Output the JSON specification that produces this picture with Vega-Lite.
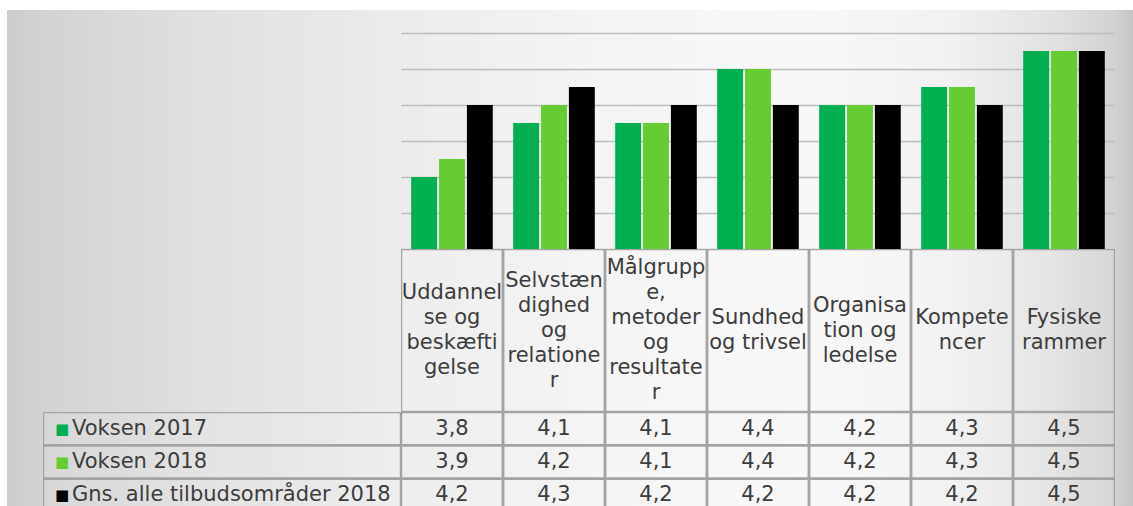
{
  "$schema": "https://vega.github.io/schema/vega-lite/v6.json",
  "padding": {"left": 7, "top": 10, "right": 0, "bottom": 0},
  "background": "white",
  "datasets": {
    "vals": [
      {"kategori": "Uddannelse og beskæftigelse", "serie": "Voksen 2017", "score": 3.8},
      {"kategori": "Uddannelse og beskæftigelse", "serie": "Voksen 2018", "score": 3.9},
      {"kategori": "Uddannelse og beskæftigelse", "serie": "Gns. alle tilbudsområder 2018", "score": 4.2},
      {"kategori": "Selvstændighed og relationer", "serie": "Voksen 2017", "score": 4.1},
      {"kategori": "Selvstændighed og relationer", "serie": "Voksen 2018", "score": 4.2},
      {"kategori": "Selvstændighed og relationer", "serie": "Gns. alle tilbudsområder 2018", "score": 4.3},
      {"kategori": "Målgruppe, metoder og resultater", "serie": "Voksen 2017", "score": 4.1},
      {"kategori": "Målgruppe, metoder og resultater", "serie": "Voksen 2018", "score": 4.1},
      {"kategori": "Målgruppe, metoder og resultater", "serie": "Gns. alle tilbudsområder 2018", "score": 4.2},
      {"kategori": "Sundhed og trivsel", "serie": "Voksen 2017", "score": 4.4},
      {"kategori": "Sundhed og trivsel", "serie": "Voksen 2018", "score": 4.4},
      {"kategori": "Sundhed og trivsel", "serie": "Gns. alle tilbudsområder 2018", "score": 4.2},
      {"kategori": "Organisation og ledelse", "serie": "Voksen 2017", "score": 4.2},
      {"kategori": "Organisation og ledelse", "serie": "Voksen 2018", "score": 4.2},
      {"kategori": "Organisation og ledelse", "serie": "Gns. alle tilbudsområder 2018", "score": 4.2},
      {"kategori": "Kompetencer", "serie": "Voksen 2017", "score": 4.3},
      {"kategori": "Kompetencer", "serie": "Voksen 2018", "score": 4.3},
      {"kategori": "Kompetencer", "serie": "Gns. alle tilbudsområder 2018", "score": 4.2},
      {"kategori": "Fysiske rammer", "serie": "Voksen 2017", "score": 4.5},
      {"kategori": "Fysiske rammer", "serie": "Voksen 2018", "score": 4.5},
      {"kategori": "Fysiske rammer", "serie": "Gns. alle tilbudsområder 2018", "score": 4.5}
    ],
    "kat": [
      {"kategori": "Uddannelse og beskæftigelse", "label": "Uddannel|se og|beskæfti|gelse"},
      {"kategori": "Selvstændighed og relationer", "label": "Selvstæn|dighed|og|relatione|r"},
      {"kategori": "Målgruppe, metoder og resultater", "label": "Målgrupp|e,|metoder|og|resultate|r"},
      {"kategori": "Sundhed og trivsel", "label": "Sundhed|og trivsel"},
      {"kategori": "Organisation og ledelse", "label": "Organisa|tion og|ledelse"},
      {"kategori": "Kompetencer", "label": "Kompete|ncer"},
      {"kategori": "Fysiske rammer", "label": "Fysiske|rammer"}
    ],
    "serier": [
      {"serie": "Voksen 2017"},
      {"serie": "Voksen 2018"},
      {"serie": "Gns. alle tilbudsområder 2018"}
    ]
  },
  "config": {
    "view": {"stroke": null},
    "font": "DejaVu Sans",
    "concat": {"spacing": 0},
    "locale": {"number": {"decimal": ",", "thousands": ".", "grouping": [3], "currency": ["", " kr."]}}
  },
  "spacing": 0,
  "vconcat": [
    {
      "spacing": 0,
      "hconcat": [
        {
          "width": 394, "height": 239,
          "data": {"values": []},
          "mark": "rect",
          "view": {"stroke": null, "fill": {"gradient": "linear", "stops": [{"offset": 0, "color": "#cccccc"}, {"offset": 0.1, "color": "#d3d3d3"}, {"offset": 0.49, "color": "#e0e0e0"}, {"offset": 1, "color": "#ececec"}]}}
        },
        {
          "width": 714, "height": 239,
          "data": {"name": "vals"},
          "view": {"stroke": null, "fill": {"gradient": "linear", "stops": [{"offset": 0, "color": "#ececec"}, {"offset": 0.28, "color": "#f4f4f4"}, {"offset": 0.56, "color": "#f8f8f8"}, {"offset": 0.77, "color": "#f1f1f1"}, {"offset": 0.91, "color": "#e2e2e2"}, {"offset": 1, "color": "#d2d2d2"}]}},
          "mark": {"type": "bar", "clip": true},
          "encoding": {
            "x": {"field": "kategori", "type": "nominal", "sort": null, "axis": null, "scale": {"paddingInner": 0.2, "paddingOuter": 0.1}},
            "xOffset": {"field": "serie", "type": "nominal", "sort": ["Voksen 2017", "Voksen 2018", "Gns. alle tilbudsområder 2018"], "scale": {"paddingInner": 0.07}},
            "y": {
              "field": "score", "type": "quantitative",
              "scale": {"domain": [3.4, 4.7278], "zero": false, "nice": false},
              "axis": {"values": [3.4, 3.6, 3.8, 4.0, 4.2, 4.4, 4.6], "labels": false, "ticks": false, "domain": false, "grid": true, "gridColor": "#bdbdbd", "gridWidth": 1.5, "title": null}
            },
            "y2": {"datum": 3.4},
            "color": {"field": "serie", "type": "nominal", "scale": {"domain": ["Voksen 2017", "Voksen 2018", "Gns. alle tilbudsområder 2018"], "range": ["#00b050", "#66cc33", "#000000"]}, "legend": null}
          }
        },
        {
          "width": 24, "height": 239,
          "data": {"values": []},
          "mark": "rect",
          "view": {"stroke": null, "fill": {"gradient": "linear", "stops": [{"offset": 0, "color": "#d2d2d2"}, {"offset": 1, "color": "#c0c0c0"}]}}
        }
      ]
    },
    {
      "spacing": 0,
      "hconcat": [
        {
          "width": 394, "height": 163,
          "data": {"values": []},
          "mark": "rect",
          "view": {"stroke": null, "fill": {"gradient": "linear", "stops": [{"offset": 0, "color": "#cccccc"}, {"offset": 0.1, "color": "#d3d3d3"}, {"offset": 0.49, "color": "#e0e0e0"}, {"offset": 1, "color": "#ececec"}]}}
        },
        {
          "width": 714, "height": 163,
          "data": {"name": "kat"},
          "view": {"stroke": null, "fill": {"gradient": "linear", "stops": [{"offset": 0, "color": "#ececec"}, {"offset": 0.28, "color": "#f4f4f4"}, {"offset": 0.56, "color": "#f8f8f8"}, {"offset": 0.77, "color": "#f1f1f1"}, {"offset": 0.91, "color": "#e2e2e2"}, {"offset": 1, "color": "#d2d2d2"}]}},
          "layer": [
            {
              "mark": {"type": "rect", "fill": "#ffffff", "fillOpacity": 0.1, "stroke": "#a3a3a3", "strokeWidth": 2.5, "clip": true},
              "encoding": {
                "x": {"field": "kategori", "type": "nominal", "sort": null, "axis": null, "scale": {"paddingInner": 0, "paddingOuter": 0}}
              }
            },
            {
              "mark": {"type": "text", "lineBreak": "|", "lineHeight": 25, "fontSize": 21, "color": "#3c3c3c", "baseline": "middle", "align": "center", "dy": {"expr": "-(length(split(datum.label, '|')) - 1) * 12.5"}},
              "encoding": {
                "x": {"field": "kategori", "type": "nominal", "sort": null, "axis": null},
                "text": {"field": "label"}
              }
            }
          ]
        },
        {
          "width": 24, "height": 163,
          "data": {"values": []},
          "mark": "rect",
          "view": {"stroke": null, "fill": {"gradient": "linear", "stops": [{"offset": 0, "color": "#d2d2d2"}, {"offset": 1, "color": "#c0c0c0"}]}}
        }
      ]
    },
    {
      "spacing": 0,
      "hconcat": [
        {
          "width": 36, "height": 100,
          "data": {"values": []},
          "mark": "rect",
          "view": {"stroke": null, "fill": {"gradient": "linear", "stops": [{"offset": 0, "color": "#cccccc"}, {"offset": 1, "color": "#d3d3d3"}]}}
        },
        {
          "width": 358, "height": 100,
          "data": {"name": "serier"},
          "view": {"stroke": null, "fill": {"gradient": "linear", "stops": [{"offset": 0, "color": "#d3d3d3"}, {"offset": 0.435, "color": "#e0e0e0"}, {"offset": 1, "color": "#ececec"}]}},
          "layer": [
            {
              "mark": {"type": "rect", "fill": "#ffffff", "fillOpacity": 0.1, "stroke": "#a3a3a3", "strokeWidth": 2.5, "clip": true},
              "encoding": {
                "y": {"field": "serie", "type": "nominal", "sort": null, "axis": null, "scale": {"paddingInner": 0, "paddingOuter": 0}}
              }
            },
            {
              "mark": {"type": "text", "text": "■", "fontSize": 15, "align": "left", "baseline": "middle", "dx": 12},
              "encoding": {
                "y": {"field": "serie", "type": "nominal", "sort": null, "axis": null},
                "x": {"datum": 0, "type": "quantitative", "scale": {"domain": [0, 1]}, "axis": null},
                "color": {"field": "serie", "type": "nominal", "scale": {"domain": ["Voksen 2017", "Voksen 2018", "Gns. alle tilbudsområder 2018"], "range": ["#00b050", "#66cc33", "#000000"]}, "legend": null}
              }
            },
            {
              "mark": {"type": "text", "fontSize": 21, "align": "left", "baseline": "middle", "dx": 29, "color": "#3c3c3c"},
              "encoding": {
                "y": {"field": "serie", "type": "nominal", "sort": null, "axis": null},
                "x": {"datum": 0, "type": "quantitative", "scale": {"domain": [0, 1]}, "axis": null},
                "text": {"field": "serie"}
              }
            }
          ]
        },
        {
          "width": 714, "height": 100,
          "data": {"name": "vals"},
          "view": {"stroke": null, "fill": {"gradient": "linear", "stops": [{"offset": 0, "color": "#ececec"}, {"offset": 0.28, "color": "#f4f4f4"}, {"offset": 0.56, "color": "#f8f8f8"}, {"offset": 0.77, "color": "#f1f1f1"}, {"offset": 0.91, "color": "#e2e2e2"}, {"offset": 1, "color": "#d2d2d2"}]}},
          "layer": [
            {
              "mark": {"type": "rect", "fill": "#ffffff", "fillOpacity": 0.1, "stroke": "#a3a3a3", "strokeWidth": 2.5, "clip": true},
              "encoding": {
                "x": {"field": "kategori", "type": "nominal", "sort": null, "axis": null, "scale": {"paddingInner": 0, "paddingOuter": 0}},
                "y": {"field": "serie", "type": "nominal", "sort": ["Voksen 2017", "Voksen 2018", "Gns. alle tilbudsområder 2018"], "axis": null, "scale": {"paddingInner": 0, "paddingOuter": 0}}
              }
            },
            {
              "mark": {"type": "text", "fontSize": 21, "color": "#3c3c3c", "baseline": "middle", "align": "center"},
              "encoding": {
                "x": {"field": "kategori", "type": "nominal", "sort": null, "axis": null},
                "y": {"field": "serie", "type": "nominal", "sort": ["Voksen 2017", "Voksen 2018", "Gns. alle tilbudsområder 2018"], "axis": null},
                "text": {"field": "score", "type": "quantitative", "format": ".1f"}
              }
            }
          ]
        },
        {
          "width": 24, "height": 100,
          "data": {"values": []},
          "mark": "rect",
          "view": {"stroke": null, "fill": {"gradient": "linear", "stops": [{"offset": 0, "color": "#d2d2d2"}, {"offset": 1, "color": "#c0c0c0"}]}}
        }
      ]
    }
  ]
}
